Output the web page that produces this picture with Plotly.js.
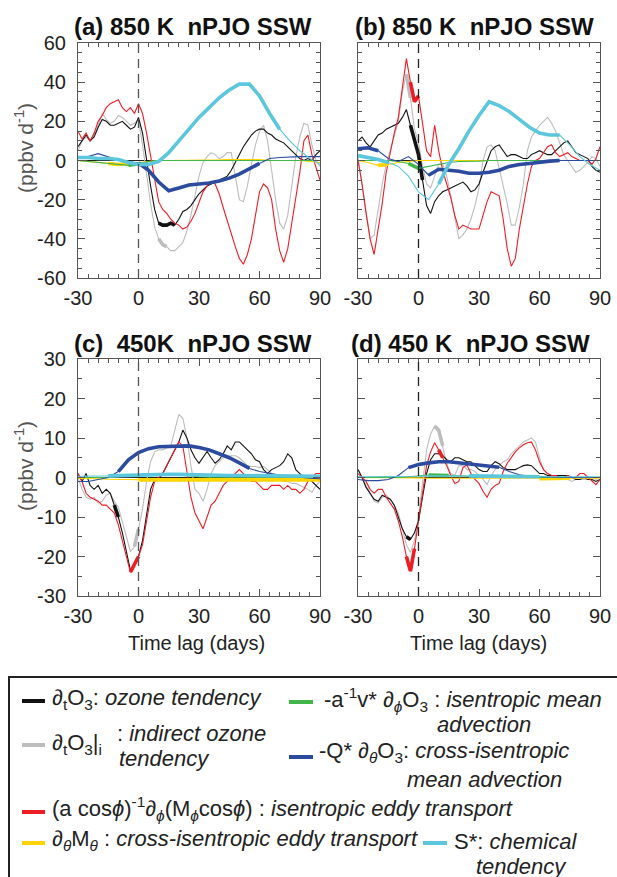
<!DOCTYPE html>
<html><head><meta charset="utf-8">
<script src="https://cdn.plot.ly/plotly-3.0.1.min.js"></script>
<style>html,body{margin:0;padding:0;background:#fff}#chart{width:617px;height:877px}</style>
</head><body><div id="chart"></div>
<script>
// ---------- DATA ----------
const lag2 = [-30,-28,-26,-24,-22,-20,-18,-16,-14,-12,-10,-8,-6,-4,-2,0,2,4,6,8,10,12,14,16,18,20,22,24,26,28,30,32,34,36,38,40,42,44,46,48,50,52,54,56,58,60,62,64,66,68,70,72,74,76,78,80,82,84,86,88,90];
const lag5 = [-30,-25,-20,-15,-10,-5,0,5,10,15,20,25,30,35,40,45,50,55,60,65,70,75,80,85,90];

// (a) 850 K
const a_black = [7,10,13,10,12,17,21,20,18,18, 19,20,18,16,17,22,14,0,-13,-25, -32,-33,-33,-32,-33,-30,-26,-25,-23,-20, -17,-15,-13,-12,-11,-10,-9,-8,-5,-1, 3,7,10,13,15,16,16,14,13,11, 10,9,7,5,3,1,0,1,0,3, 5];
const a_grey  = [5,10,12,10,13,18,24,21,19,20, 23,22,20,18,19,21,8,-8,-22,-34, -40,-43,-44,-46,-46,-44,-42,-36,-28,-18, -8,-1,2,4,3,1,2,4,4,-8, -20,-21,-13,-2,8,15,18,10,-5,-20, -32,-35,-28,-12,2,12,19,18,8,0, -3];
const a_red   = [15,11,14,10,14,20,23,27,29,30, 31,27,25,27,24,29,24,14,3,-10, -21,-25,-27,-30,-32,-33,-35,-34,-31,-27, -22,-16,-13,-11,-12,-17,-24,-31,-37,-44, -50,-53,-48,-40,-28,-16,-12,-14,-20,-35, -46,-52,-45,-32,-18,-6,10,13,3,-4, -10];
const a_blue   = [1,2,3.5,2,0.3,-0.5,-1.3,-5,-11,-15.5,-14,-12.5,-12,-11.5,-10.5,-9,-7,-4.5,-1.5,1,1.5,1.8,2,2,2];
const a_cyan   = [1.5,1.5,1,1,0.5,-1,-2,-2,-0.5,4,10,16,22,27,32,36,39,39,33,24,16,10,5,1,-2];
const a_green  = [0,-0.5,-1,-1.5,-2,-2.5,-1.5,-0.5,0,0,0,0,0,0,0,0,0,0,0,0,0,0,0,0,0];
const a_yellow = [0,-0.5,-1,-1.5,-2,-1.5,-1,-0.5,0,0,0,0,0,0.2,0.3,0.5,0.5,0.5,0.5,0,0,0,0,-0.5,-1];

// (b) 850 K
const b_black = [10,12,9,7,10,13,14,16,17,18, 19,22,26,18,11,3,-10,-23,-27,-21, -18,-16,-15,-14,-13,-12,-11,-13,-16,-15, -12,-6,0,5,7,8,5,2,3,3, 2,1,1,3,4,5,4,3,3,5, 7,9,10,7,4,3,2,1,-3,-5, -6];
const b_grey  = [2,-12,-28,-40,-38,-24,-12,-2,5,12, 20,35,44,32,16,9,-3,-12,-14,-8, -2,-2,-8,-18,-30,-40,-38,-35,-30,-23, -14,0,7,8,5,-4,-12,-22,-33,-33, -24,-12,5,12,15,18,20,22,19,15, 9,3,0,-3,-6,-5,-3,-1,2,1, -3];
const b_red   = [0,-12,-27,-40,-48,-36,-22,-6,5,14, 22,36,52,40,30,33,20,5,2,18, 5,-5,-12,-19,-28,-35,-33,-34,-35,-35, -35,-28,-21,-16,-17,-18,-30,-45,-54,-50, -35,-23,-12,-3,0,1,4,7,8,4, 2,3,4,2,1,0,0,0,-2,1, 7];
const b_blue   = [6,6.5,5,1,-0.5,2,-2,-7.5,-4.5,-5,-5.5,-6.5,-6.5,-6,-5,-3,-2,-1.5,-0.8,-0.3,0,0,0,0,0];
const b_cyan   = [2.5,1.5,0.5,-1,-3,-8,-16,-20,-12,-2,6,15,23,30,28,25,21,17,14,13,13,8,2,-2,-5];
const b_green  = [0,0,0,0,-0.5,-1.5,-4,-3,-2,-1,-0.5,-0.5,-0.3,0,0,0,0,0,0,0,0,0,0,0,0];
const b_yellow = [0,-1,-2.5,-2,-1,-0.5,0,0,0,0,0,0,0,0,0,0,0,0,0,0,0,0,0,0,0];

// (c) 450 K
const c_black = [1,-1,1,-2,-3,-2,-4,-3,-4,-7, -10,-14,-19,-23.5,-22,-20,-16,-9,-3,-0.5, -0.5,1,3,5,7,9,12,10,7,5, 3.6,5,6.6,5,3.6,4.5,6,8,7,9, 9,8,7,6,4.5,4,2,1,2,2.5, 3,4,6,5,2,1,0,0,-1,-2, -3];
const c_grey  = [0,-3,-5,-5.5,-5,-6.5,-6,-4.5,-4,-6, -7.5,-11,-15,-18.8,-17.5,-13,-8,-1,4,6.5, 7,7,7.5,8,12,16,15,10,3,-3, -4,-6,-3,1,3,4,5,5.3,5.5,5.5, 5,4,3,2.8,2.8,2.5,2.8,2,1,0, -0.5,-1,-1,-1.5,-1.5,-2,-2.5,-3,-3.8,-2, -1];
const c_red   = [1,-1,-4,-5,-5.5,-6,-7,-7,-8,-9, -12,-16,-20,-24,-22,-20,-17,-11,-5,-1, 0,1,3,5,7,9,8,1,-5,-9, -11,-13,-10,-7,-6,-4,-2,-1,0,1, 2,1,0,-1,-1,-2,-3,-3,-2,-2, -2,-3,-2,-3,-3,-4,-3,-1,0,1, 1];
const c_blue   = [-1,-1,-0.5,0,1.5,4.5,6.3,7.3,7.8,7.8,7.8,8,7.6,7,6,5,3.7,2.3,1.5,1,0.6,0.3,0,-0.2,-0.3];
const c_cyan   = [0.3,0.3,0.3,0.4,0.5,0.6,0.7,0.8,0.8,0.8,0.8,0.7,0.7,0.6,0.6,0.5,0.5,0.5,0.4,0.4,0.3,0.3,0.3,0.3,0.3];
const c_green  = [0,0,0,0,0.2,0.5,0.8,1,1,0.8,0.5,0.3,0.2,0.1,0.1,0.1,0.1,0.1,0.1,0.1,0,0,0,0,0];
const c_yellow = [-0.2,-0.3,-0.3,-0.4,-0.5,-0.5,-0.6,-0.6,-0.6,-0.6,-0.6,-0.6,-0.6,-0.6,-0.6,-0.6,-0.6,-0.6,-0.6,-0.6,-0.6,-0.6,-0.7,-0.7,-0.6];

// (d) 450 K
const d_black = [2,0,-2.5,-4,-5.5,-6,-4.5,-5,-5.5,-7, -10,-13,-15,-15.7,-14,-11,-5,1,4.5,6, 6,5.5,4.5,4,5,5,4.5,4,4,3, 2,1.5,1.5,3,4,3.5,2.5,2,2,2, 2.5,3,3.2,3,2,1,1,0.5,0.5,0.5, 0.5,0.5,0.5,0,-0.5,-0.5,0,-0.5,-0.5,-1, -0.5];
const d_grey  = [2,0,-2,-4,-6,-6.5,-5,-4.5,-5.5,-7, -9,-13,-17,-19,-16,-10,-2,7,11,13, 12,8,3.5,1,0.5,3,3,2,2,1.5, 0.5,-0.5,-1.8,0.5,2,3,4,4.5,6,7, 8,9,9.5,10,9,5,2,1,0.5,0, -0.5,-0.5,-0.5,-1,-0.5,-0.5,-0.5,-0.5,0,-0.5, -1];
const d_red   = [1,0,-1,-3,-4,-3,-3,-5,-6.5,-8, -11,-15,-20,-23.7,-18,-11,-3,3,6.5,8.8, 7,5,3,0.5,-1.5,-1,2.5,3.2,1,-0.5, -1.5,-3.5,-5,-3,-2,-1.5,1.5,3.6,5,6.5, 7.5,8.3,8.8,9,7,4,2,1,0.5,0.5, 0,0,0.5,0,0,1,1,0,-1,-1.8, -0.5];
const d_blue   = [-0.5,-0.8,-0.8,-0.5,0.5,2.5,3.3,3.7,4,4,3.7,3.3,3,2.8,2.6,1.5,0.7,0.3,0.2,0.1,0.1,0,0,0,0];
const d_cyan   = [0.2,0.2,0.2,0.2,0.2,0.3,0.3,0.4,0.4,0.4,0.4,0.4,0.4,0.4,0.3,0.3,0.3,0.3,0.2,0.2,0.2,0.2,0.2,0.2,0.2];
const d_green  = [0,0,0,0,0,0.2,0.4,0.6,0.6,0.5,0.3,0.2,0.1,0.1,0.1,0,0,0,0,0,0,0,0,0,0];
const d_yellow = [0,0,-0.1,-0.1,-0.1,-0.1,-0.1,-0.2,-0.2,-0.2,-0.2,-0.2,-0.2,-0.2,-0.2,-0.2,-0.2,-0.2,-0.3,-0.3,-0.3,-0.2,-0.2,-0.2,-0.2];

// significant lag ranges (drawn thick)
const a_sig = {black:[[10,18]], grey:[[10,14]], red:[], yellow:[[-15,-5]], green:[[-5,0]], blue:[[0,60]], cyan:[[-30,70]]};
const b_sig = {black:[[-4,2]], grey:[[-6,-4]], red:[[-4,0]], yellow:[[-20,-15]], green:[[-5,0]], blue:[[-30,-20],[5,70]], cyan:[[-30,-15],[10,70]]};
const c_sig = {black:[[-12,-10]], grey:[[-2,0]], red:[[-4,0]], yellow:[[0,90]], green:[], blue:[[-10,55]], cyan:[[-15,90]]};
const d_sig = {black:[[-6,-4]], grey:[[8,12]], red:[[-6,-2],[10,12]], yellow:[[60,75]], green:[[5,15]], blue:[[-5,40]], cyan:[[25,60]]};

// tick labels
const xTickVals = [-30,0,30,60,90];
const xTickText = ['-30','0','30','60','90'];
const yTopVals = [-60,-40,-20,0,20,40,60];
const yTopText = ['-60','-40','-20','0','20','40','60'];
const yBotVals = [-30,-20,-10,0,10,20,30];
const yBotText = ['-30','-20','-10','0','10','20','30'];

const panelTitles = ['(a) 850 K\u00a0\u00a0nPJO SSW','(b) 850 K\u00a0\u00a0nPJO SSW','(c)\u00a0\u00a0450K\u00a0\u00a0nPJO SSW','(d) 450 K\u00a0\u00a0nPJO SSW'];
const xTitle = 'Time lag (days)';
const yTitle = '(ppbv d<sup>-1</sup>)';

// ---------- STYLE / LAYOUT ----------
const W = 617, H = 877;
const px = v => v / W, py = v => 1 - v / H;
const COL = {black:'#111111', grey:'#bdbdbd', red:'#ee1c24', yellow:'#ffd400', green:'#41b64b', blue:'#2c4b9f', cyan:'#5cc7dc'};
const FONT = 'Liberation Sans, Arial, Helvetica, sans-serif';

const panels = [
  {ax:'',  data:{black:a_black,grey:a_grey,red:a_red,blue:a_blue,cyan:a_cyan,green:a_green,yellow:a_yellow}, sig:a_sig},
  {ax:'2', data:{black:b_black,grey:b_grey,red:b_red,blue:b_blue,cyan:b_cyan,green:b_green,yellow:b_yellow}, sig:b_sig},
  {ax:'3', data:{black:c_black,grey:c_grey,red:c_red,blue:c_blue,cyan:c_cyan,green:c_green,yellow:c_yellow}, sig:c_sig},
  {ax:'4', data:{black:d_black,grey:d_grey,red:d_red,blue:d_blue,cyan:d_cyan,green:d_green,yellow:d_yellow}, sig:d_sig}
];
const order = ['grey','black','red','yellow','green','blue','cyan'];
const smooth = {blue:1,cyan:1,green:1,yellow:1};

const traces = [];
panels.forEach(p => {
  order.forEach(name => {
    const xs = smooth[name] ? lag5 : lag2;
    const ys = p.data[name];
    const base = {type:'scatter', mode:'lines', xaxis:'x'+p.ax, yaxis:'y'+p.ax, hoverinfo:'skip', showlegend:false};
    traces.push(Object.assign({}, base, {x:xs, y:ys, line:{color:COL[name], width:1.1}}));
    const rs = p.sig[name];
    if (rs.length) {
      const thick = ys.map((v,i) => rs.some(r => xs[i] >= r[0] && xs[i] <= r[1]) ? v : null);
      traces.push(Object.assign({}, base, {x:xs, y:thick, connectgaps:false, line:{color:COL[name], width:3.6}}));
    }
  });
});

const xL = [78/W, 320/W], xR = [358/W, 600/W];
const yT = [1-278/H, 1-43/H], yB = [1-596/H, 1-359/H];
const axCommon = {
  showline:true, linecolor:'#555', linewidth:1, mirror:'ticks', ticks:'inside', ticklen:7, tickwidth:1, tickcolor:'#555',
  showgrid:false, fixedrange:true, tickmode:'array',
  tickfont:{family:FONT, size:20, color:'#222'},
  minor:{ticks:'inside', ticklen:4, tickwidth:1, tickcolor:'#555', tickmode:'linear', tick0:0, dtick:5, showgrid:false}
};
function xax(dom, anchor){ return Object.assign({}, axCommon, {domain:dom, anchor:anchor, range:[-30,90], tickvals:xTickVals, ticktext:xTickText, zeroline:false, ticklabelstandoff:2}); }
function yax(dom, anchor, top, labels){
  return Object.assign({}, axCommon, {domain:dom, anchor:anchor, range: top?[-60,60]:[-30,30],
    tickvals: top?yTopVals:yBotVals, ticktext: top?yTopText:yBotText,
    zeroline:true, zerolinecolor:'#222', zerolinewidth:1, showticklabels:labels, ticklabelstandoff:7});
}

const shapes = [];
['x','x2','x3','x4'].forEach((xa,i) => {
  shapes.push({type:'line', xref:xa, yref:(i?'y'+(i+1):'y')+' domain', x0:0, x1:0, y0:0, y1:1,
    line:{color:(i%2===0)?'#555':'#222', width:1.3, dash:'9px,6px'}});
});

// legend box
shapes.push({type:'rect', xref:'paper', yref:'paper', x0:px(9), x1:px(640), y0:py(677), y1:py(900), line:{color:'#222', width:2}, fillcolor:'rgba(0,0,0,0)'});
const legSegs = [
  ['black',22,45,701],['green',289,313,702],['grey',22,45,745],['blue',289,313,757],
  ['red',22,45,812],['yellow',22,45,843],['cyan',423,447,843]
];
legSegs.forEach(s => shapes.push({type:'line', xref:'paper', yref:'paper', x0:px(s[1]), x1:px(s[2]), y0:py(s[3]), y1:py(s[3]), line:{color:COL[s[0]], width:4}}));

const annotations = [];
function ann(text, x, y, opts){
  annotations.push(Object.assign({xref:'paper', yref:'paper', x:px(x), y:py(y), xanchor:'left', yanchor:'middle', showarrow:false, text:text,
    font:{family:FONT, size:22, color:'#222'}}, opts||{}));
}
const TF = {family:FONT, size:24, color:'#111'};
// panel titles
ann('<b>'+panelTitles[0]+'</b>', 72, 26, {font:TF});
ann('<b>'+panelTitles[1]+'</b>', 353, 26, {font:TF});
ann('<b>'+panelTitles[2]+'</b>', 72, 343, {font:TF});
ann('<b>'+panelTitles[3]+'</b>', 349, 343, {font:TF});
// axis titles
ann(yTitle, 24, 148, {xanchor:'center', textangle:-90, font:{family:FONT,size:21,color:'#555'}});
ann(yTitle, 24, 466, {xanchor:'center', textangle:-90, font:{family:FONT,size:21,color:'#555'}});
ann(xTitle, 196, 643, {xanchor:'center', font:{family:FONT,size:20,color:'#222'}});
ann(xTitle, 478, 643, {xanchor:'center', font:{family:FONT,size:20,color:'#222'}});
// legend texts
ann('∂<sub>t</sub>O<sub>3</sub>: <i>ozone tendency</i>', 50, 699);
ann('-a<sup>-1</sup>v* ∂<sub><i>ϕ</i></sub>O<sub>3</sub> : <i>isentropic mean</i>', 322, 699);
ann('<i>advection</i>', 435, 724);
ann('∂<sub>t</sub>O<sub>3</sub>|<sub>i</sub>', 50, 744);
ann(': <i>indirect ozone</i>', 115, 733);
ann('<i>tendency</i>', 117, 758);
ann('-Q* ∂<sub><i>θ</i></sub>O<sub>3</sub>: <i>cross-isentropic</i>', 317, 752);
ann('<i>mean advection</i>', 405, 779);
ann('(a cos<i>ϕ</i>)<sup>-1</sup>∂<sub><i>ϕ</i></sub>(M<sub><i>ϕ</i></sub>cos<i>ϕ</i>) : <i>isentropic eddy transport</i>', 50, 808);
ann('∂<sub><i>θ</i></sub>M<sub><i>θ</i></sub> : <i>cross-isentropic eddy transport</i>', 50, 840);
ann('S*: <i>chemical</i>', 452, 841);
ann('<i>tendency</i>', 474, 866);

const layout = {
  width:W, height:H, margin:{l:0,r:0,t:0,b:0}, paper_bgcolor:'#fff', plot_bgcolor:'#fff', showlegend:false,
  font:{family:FONT, color:'#222'},
  xaxis:xax(xL,'y'), yaxis:yax(yT,'x',true,true),
  xaxis2:xax(xR,'y2'), yaxis2:yax(yT,'x2',true,false),
  xaxis3:xax(xL,'y3'), yaxis3:yax(yB,'x3',false,true),
  xaxis4:xax(xR,'y4'), yaxis4:yax(yB,'x4',false,false),
  shapes:shapes, annotations:annotations
};
Plotly.newPlot('chart', traces, layout, {staticPlot:true, displayModeBar:false});
</script></body></html>
